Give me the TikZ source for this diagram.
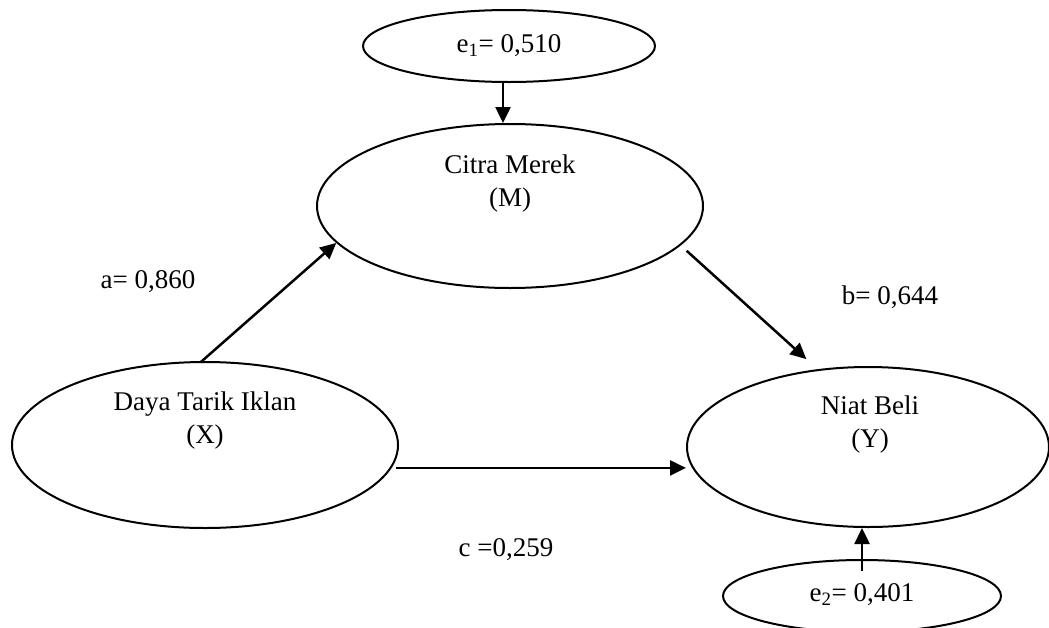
\documentclass[tikz,border=0pt]{standalone}
\usepackage{fontspec}
\setmainfont{Liberation Serif}
\usetikzlibrary{shapes.geometric,arrows.meta}
\begin{document}
\begin{tikzpicture}[x=1pt,y=-1pt,
  ell/.style={draw,ellipse,line width=2pt,inner sep=0pt},
  txt/.style={font=\fontsize{27}{33}\selectfont,align=center,inner sep=0pt},
  arr/.style={line width=2.5pt,-{Triangle[length=16pt,width=15pt]}}]
\useasboundingbox (0,0) rectangle (1049,627);
% ellipses
\node[ell,minimum width=292pt,minimum height=72pt] (e1) at (509,46) {};
\node[ell,minimum width=386pt,minimum height=164pt] (cm) at (510,206) {};
\node[ell,minimum width=386pt,minimum height=166pt] (dt) at (205,445) {};
\node[ell,minimum width=362pt,minimum height=160pt] (nb) at (868,447) {};
\node[ell,minimum width=278pt,minimum height=72pt] (e2) at (862,596) {};
% texts
\node[txt] (e1t) at (e1.center) {e\textsubscript{1}= 0,510};
\node[txt] (cmt) at ([yshift=22pt]cm.center) {Citra Merek\\(M)};
\node[txt] (dtt) at ([yshift=25pt]dt.center) {Daya Tarik Iklan\\(X)};
\node[txt] (nbt) at ([xshift=2pt,yshift=23pt]nb.center) {Niat Beli\\(Y)};
\node[txt] (e2t) at ([yshift=1pt]e2.center) {e\textsubscript{2}= 0,401};
\node[txt] (la) at (148,282) {a= 0,860};
\node[txt] (lb) at (890,297) {b= 0,644};
\node[txt] (lc) at (506,550) {c =0,259};
% connectors
\draw[arr] ([xshift=-6pt]e1.south) -- ([xshift=-7pt]cm.north);
\draw[arr,shorten <=-2pt] ([xshift=-3pt]dt.north) -- (cm.192);
\draw[arr,shorten <=8pt,shorten >=15pt] (cm.347) -- (nb.123);
\draw[arr,shorten <=4pt] (dt.-7) -- (dt.-7 -| nb.west);
\draw[arr] ([yshift=-12pt]e2.north) -- ([xshift=-6pt]nb.south);
\end{tikzpicture}
\end{document}
